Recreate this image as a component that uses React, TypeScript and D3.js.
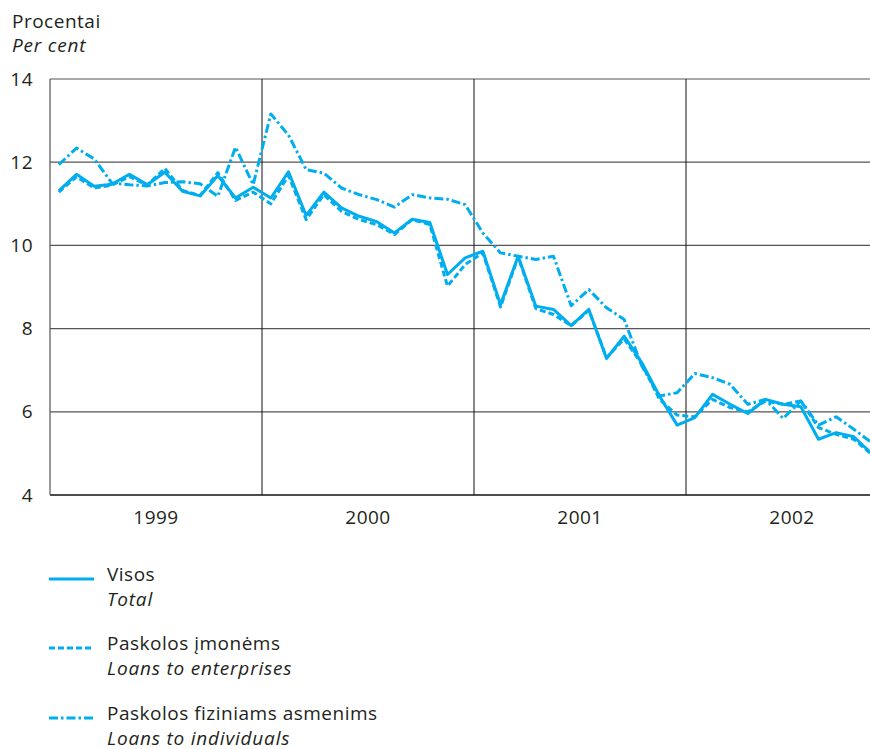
import React from "react";
import * as d3 from "d3";

const years = ["1999", "2000", "2001", "2002"];
const yTicks = [4, 6, 8, 10, 12, 14];

// Monthly values, Jan 1999 .. Nov 2002
const total = [
  11.31, 11.71, 11.42, 11.47, 11.71, 11.46, 11.76, 11.3, 11.19, 11.68, 11.14, 11.4,
  11.14, 11.77, 10.72, 11.28, 10.9, 10.7, 10.57, 10.3, 10.63, 10.55, 9.3, 9.7,
  9.86, 8.58, 9.74, 8.54, 8.46, 8.07, 8.46, 7.28, 7.82, 7.18, 6.38, 5.68,
  5.86, 6.42, 6.18, 5.96, 6.3, 6.18, 6.12, 5.34, 5.5, 5.4, 5.0,
];
const enterprises = [
  11.28, 11.65, 11.38, 11.45, 11.65, 11.45, 11.85, 11.32, 11.2, 11.75, 11.08, 11.28,
  11.0, 11.68, 10.62, 11.22, 10.82, 10.62, 10.5, 10.26, 10.62, 10.5, 9.02, 9.54,
  9.82, 8.52, 9.72, 8.48, 8.34, 8.07, 8.44, 7.3, 7.75, 7.15, 6.3, 5.92,
  5.88, 6.3, 6.1, 6.0, 6.26, 6.18, 6.26, 5.62, 5.46, 5.34, 4.98,
];
const individuals = [
  11.94, 12.34, 12.08, 11.5, 11.46, 11.43, 11.51, 11.53, 11.48, 11.18, 12.36, 11.46,
  13.16, 12.65, 11.82, 11.74, 11.38, 11.22, 11.1, 10.92, 11.22, 11.14, 11.11, 10.98,
  10.3, 9.82, 9.74, 9.66, 9.74, 8.55, 8.94, 8.5, 8.22, 7.1, 6.38, 6.46,
  6.92, 6.82, 6.66, 6.18, 6.3, 5.84, 6.26, 5.68, 5.88, 5.58, 5.26,
];

const seriesNames = [
  { lt: "Visos", en: "Total", dash: "none" },
  { lt: "Paskolos įmonėms", en: "Loans to enterprises", dash: "6,3" },
  { lt: "Paskolos fiziniams asmenims", en: "Loans to individuals", dash: "9,3,2.5,3" },
];

const W = 870;
const H = 749;
const left = 50;
const right = 870;
const top = 79;
const bottom = 495;
const monthW = 212 / 12;

const COLOR = "#00aeef";
const TEXT = "#231f20";
const FONT = "'Open Sans', sans-serif";
const FS = 19;
const LS = 0.5;
const LSI = 0.8;

export default function App() {
  const x = d3.scaleLinear().domain([0, 12]).range([left, left + 12 * monthW]);
  const y = d3.scaleLinear().domain([4, 14]).range([bottom, top]);
  const line = d3
    .line<number>()
    .x((_, i) => x(i + 0.5))
    .y((d) => y(d));
  const data = [total, enterprises, individuals];
  const legendY = [579, 648, 718];

  return (
    <>
      <style>{`body{margin:0}`}</style>
      <svg width={W} height={H} style={{ display: "block" }} fontFamily={FONT}>
        <rect width={W} height={H} fill="#fff" />
        <text x={12} y={28} fontSize={FS} fill={TEXT} letterSpacing={LS}>
          Procentai
        </text>
        <text x={12} y={52} fontSize={FS} fill={TEXT} fontStyle="italic" letterSpacing={LSI}>
          Per cent
        </text>
        <defs>
          <clipPath id="plot">
            <rect x={left} y={top - 10} width={right - left} height={bottom - top + 20} />
          </clipPath>
        </defs>
        {yTicks.map((t) => (
          <g key={t}>
            <line
              x1={left}
              x2={right}
              y1={y(t)}
              y2={y(t)}
              stroke={t === 4 ? "#111" : "#555"}
              strokeWidth={t === 4 ? 1.5 : 1.2}
            />
            <text x={33} y={y(t) + 6.5} fontSize={FS} fill={TEXT} textAnchor="end" letterSpacing={LS}>
              {t}
            </text>
          </g>
        ))}
        <line x1={left} x2={left} y1={top} y2={bottom} stroke="#555" strokeWidth={1.2} />
        {years.map((yr, i) => (
          <g key={yr}>
            {i > 0 && (
              <line
                x1={x(i * 12)}
                x2={x(i * 12)}
                y1={top}
                y2={bottom}
                stroke="#111"
                strokeWidth={1}
              />
            )}
            <text x={x(i * 12 + 6)} y={524} fontSize={FS} fill={TEXT} textAnchor="middle" letterSpacing={LS}>
              {yr}
            </text>
          </g>
        ))}
        <g clipPath="url(#plot)">
          {data.map((d, i) => (
            <path
              key={i}
              d={line(d) || ""}
              fill="none"
              stroke={COLOR}
              strokeWidth={3}
              strokeDasharray={seriesNames[i].dash}
              strokeLinejoin="round"
            />
          ))}
        </g>
        {seriesNames.map((s, i) => (
          <g key={s.en}>
            <line
              x1={49}
              x2={94}
              y1={legendY[i]}
              y2={legendY[i]}
              stroke={COLOR}
              strokeWidth={3}
              strokeDasharray={s.dash}
            />
            <text x={107} y={legendY[i] + 1.5} fontSize={FS} fill={TEXT} letterSpacing={LS}>
              {s.lt}
            </text>
            <text x={107} y={legendY[i] + 26.5} fontSize={FS} fill={TEXT} fontStyle="italic" letterSpacing={LSI}>
              {s.en}
            </text>
          </g>
        ))}
      </svg>
    </>
  );
}
